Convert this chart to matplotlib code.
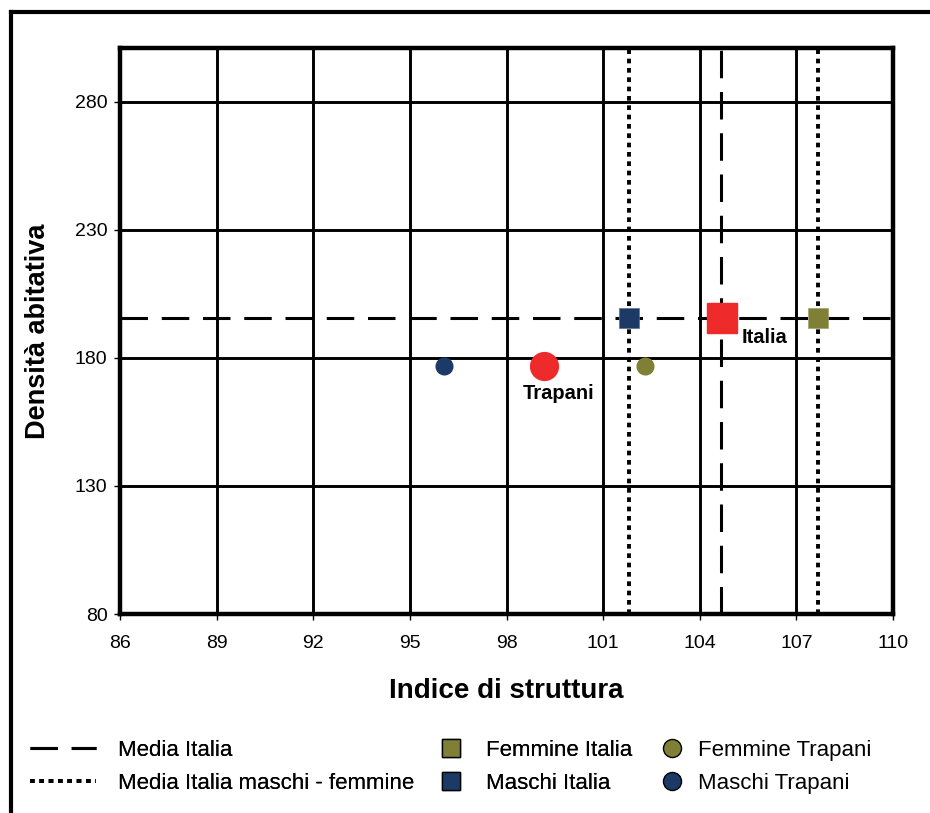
import matplotlib.pyplot as plt
from matplotlib.lines import Line2D

plt.rcParams['font.family'] = ['Liberation Sans', 'DejaVu Sans']

# medie (linee di riferimento)
media_italia_x = 104.66
media_italia_y = 195.6
media_maschi_x = 101.8
media_femmine_x = 107.68

# punti
italia = (104.7, 195.6)
trapani = (99.15, 177.0)
femmine_italia = (107.68, 195.6)
maschi_italia = (101.8, 195.6)
femmine_trapani = (102.3, 177.0)
maschi_trapani = (96.05, 177.0)

x_ticks = [86, 89, 92, 95, 98, 101, 104, 107, 110]
y_ticks = [80, 130, 180, 230, 280]

red = '#EE2A2A'
navy = '#1B3A66'
olive = '#7F8035'

fig = plt.figure(figsize=(9.3, 8.13), dpi=100)
ax = fig.add_axes([120 / 930, 1 - 614 / 813, 773 / 930, 566 / 813])

ax.set_xlim(86, 110)
ax.set_ylim(80, 301)
ax.set_xticks(x_ticks)
ax.set_yticks(y_ticks)
for x in x_ticks[1:-1]:
    ax.axvline(x, color='black', lw=2.1, zorder=1)
for y in y_ticks[1:]:
    ax.axhline(y, color='black', lw=2.1, zorder=1)

ax.axhline(media_italia_y, color='black', lw=2.2, dashes=(9, 4.5), zorder=2)
ax.axvline(media_italia_x, color='black', lw=2.2, dashes=(9, 4.5), zorder=2)
ax.axvline(media_maschi_x, color='black', lw=2.8, dashes=(1.2, 1.2), zorder=2)
ax.axvline(media_femmine_x, color='black', lw=2.8, dashes=(1.2, 1.2), zorder=2)

ax.plot(*maschi_italia, 's', ms=15, color=navy, mec='#5a6f90', mew=0.5, zorder=3)
ax.plot(*femmine_italia, 's', ms=15, color=olive, mec='#a0a070', mew=0.5, zorder=3)
ax.plot(*italia, 's', ms=21, color=red, zorder=3)
ax.plot(*maschi_trapani, 'o', ms=12, color=navy, zorder=3)
ax.plot(*femmine_trapani, 'o', ms=12, color=olive, zorder=3)
ax.plot(*trapani, 'o', ms=20, color=red, zorder=3)

ax.annotate('Italia', italia, xytext=(14, -14), textcoords='offset points',
            fontsize=14.5, fontweight='bold', ha='left', va='center')
ax.annotate('Trapani', trapani, xytext=(11, -20), textcoords='offset points',
            fontsize=14.5, fontweight='bold', ha='center', va='center')

for s in ax.spines.values():
    s.set_linewidth(3.2)
    s.set_zorder(4)
ax.tick_params(direction='out', length=4, width=1, labelsize=14, pad=5)
ax.tick_params(axis='x', pad=11)

ax.set_xlabel('Indice di struttura', fontsize=20, fontweight='bold', labelpad=19)
ax.set_ylabel('Densità abitativa', fontsize=19.5, fontweight='bold', labelpad=17)

# legenda
leg_top = 1 - 740 / 813
leg_kw = dict(loc='upper left', frameon=False, fontsize=16, borderpad=0,
              borderaxespad=0, labelspacing=0.55)

h_lines = [Line2D([], [], color='black', lw=2.2, dashes=(9, 4.5)),
           Line2D([], [], color='black', lw=2.8, dashes=(1.2, 1.2))]
fig.add_artist(fig.legend(h_lines, ['Media Italia', 'Media Italia maschi - femmine'],
                          bbox_to_anchor=(30 / 930, leg_top),
                          handlelength=2.95, handletextpad=1.0, **leg_kw))

h_sq = [Line2D([], [], ls='', marker='s', ms=13, color=olive, mec='black', mew=1),
        Line2D([], [], ls='', marker='s', ms=13, color=navy, mec='black', mew=1)]
fig.add_artist(fig.legend(h_sq, ['Femmine Italia', 'Maschi Italia'],
                          bbox_to_anchor=(438 / 930, leg_top),
                          handlelength=1.2, handletextpad=0.95, **leg_kw))

h_ci = [Line2D([], [], ls='', marker='o', ms=13, color=olive, mec='black', mew=1),
        Line2D([], [], ls='', marker='o', ms=13, color=navy, mec='black', mew=1)]
fig.legend(h_ci, ['Femmine Trapani', 'Maschi Trapani'],
           bbox_to_anchor=(659 / 930, leg_top),
           handlelength=1.2, handletextpad=0.55, **leg_kw)

# cornice
fig.add_artist(Line2D([11 / 930, 1], [1 - 12 / 813] * 2, color='black', lw=3,
                      transform=fig.transFigure))
fig.add_artist(Line2D([11 / 930] * 2, [0, 1 - 12 / 813], color='black', lw=3,
                      transform=fig.transFigure))

fig.savefig('out.png', dpi=100)
